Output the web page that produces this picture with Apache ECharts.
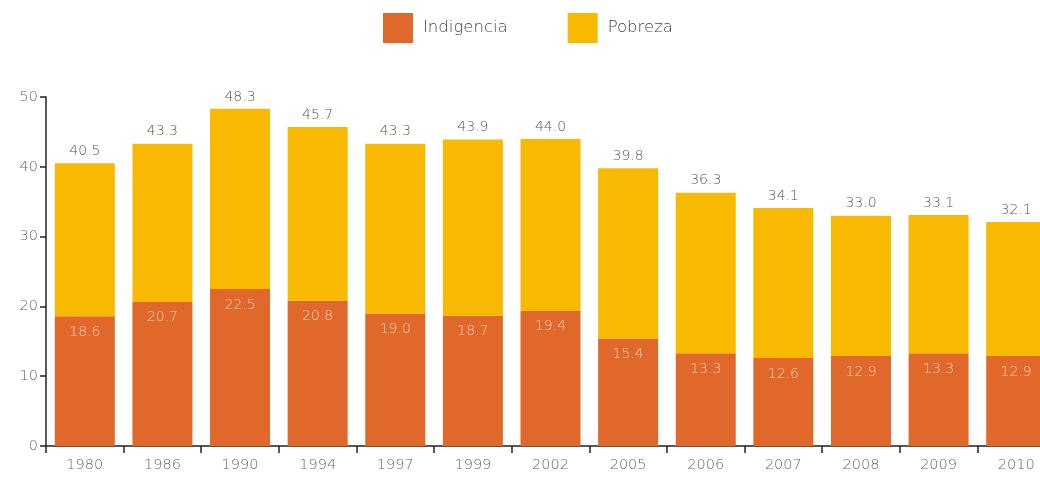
<!DOCTYPE html>
<html><head><meta charset="utf-8">
<script src="https://cdn.jsdelivr.net/npm/echarts@6/dist/echarts.min.js"></script>
<style>html,body{margin:0;padding:0;background:#fff}#c{width:1040px;height:478px}</style>
</head><body><div id="c"></div>
<script>
const years = ['1980','1986','1990','1994','1997','1999','2002','2005','2006','2007','2008','2009','2010'];
const indigencia = [18.6,20.7,22.5,20.8,19.0,18.7,19.4,15.4,13.3,12.6,12.9,13.3,12.9];
const pobreza = [21.9,22.6,25.8,24.9,24.3,25.2,24.6,24.4,23.0,21.5,20.1,19.8,19.2];
const totals = [40.5,43.3,48.3,45.7,43.3,43.9,44.0,39.8,36.3,34.1,33.0,33.1,32.1];
const yTicks = [0,10,20,30,40,50];

const chart = echarts.init(document.getElementById('c'));
const font = '"DejaVu Sans", sans-serif';
chart.setOption({
  animation:false,
  textStyle:{fontFamily:font},
  legend:{
    top:13, left:383, padding:0,
    itemWidth:30, itemHeight:30, itemGap:60,
    icon:'rect',
    formatter:n=>'{s|}'+n,
    textStyle:{color:'#444', fontSize:16.5, fontFamily:font, fontWeight:200,
      rich:{s:{width:5}}},
    data:['Indigencia','Pobreza']
  },
  grid:{left:46, width:1009, top:97, bottom:32, containLabel:false, outerBoundsMode:'none'},
  xAxis:{
    type:'category', data:years,
    axisLine:{lineStyle:{color:'#222', width:1.5}},
    axisTick:{show:true, length:7, lineStyle:{color:'#222', width:1.5}},
    axisLabel:{color:'#666', fontSize:14.5, margin:12, fontFamily:font, fontWeight:200}
  },
  yAxis:{
    type:'value', min:yTicks[0], max:yTicks[yTicks.length-1], interval:10,
    axisLine:{show:true, lineStyle:{color:'#222', width:1.5}},
    axisTick:{show:true, inside:false, length:6, lineStyle:{color:'#222', width:1.5}},
    axisLabel:{color:'#666', fontSize:14.5, margin:8, fontFamily:font, fontWeight:200},
    splitLine:{show:false}
  },
  series:[
    {name:'Indigencia', type:'bar', stack:'t', data:indigencia, barWidth:60,
     itemStyle:{color:'#E0682B'},
     label:{show:true, position:'insideTop', distance:9, color:'#F8D2BA', fontSize:14, fontFamily:font, fontWeight:200,
       formatter:p=>p.value.toFixed(1)}},
    {name:'Pobreza', type:'bar', stack:'t', data:pobreza, barWidth:60,
     itemStyle:{color:'#F9B901'},
     label:{show:true, position:'top', distance:5, color:'#555', fontSize:14, fontFamily:font, fontWeight:200,
       formatter:p=>totals[p.dataIndex].toFixed(1)}}
  ]
});
</script></body></html>
